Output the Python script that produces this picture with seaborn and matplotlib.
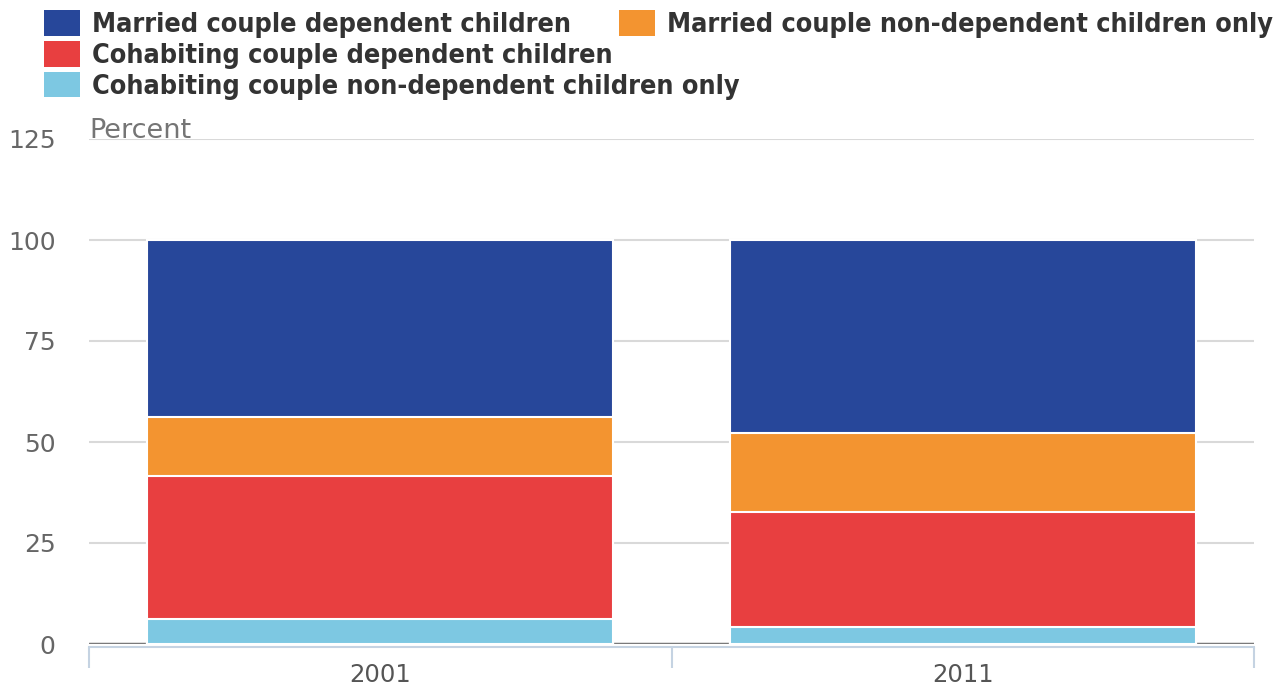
import matplotlib
matplotlib.use("Agg")
import matplotlib.pyplot as plt
from matplotlib.patches import Patch
from matplotlib.font_manager import FontProperties, findfont
import seaborn as sns
import pandas as pd

# data (percent of couple families with children)
years = ["2001", "2011"]
cohab_nondep = [6.2, 4.3]
cohab_dep = [35.4, 28.4]
married_nondep = [14.6, 19.5]
married_dep = [43.8, 47.8]

series_names = [
    "Cohabiting couple non-dependent children only",
    "Cohabiting couple dependent children",
    "Married couple non-dependent children only",
    "Married couple dependent children",
]
series_values = [cohab_nondep, cohab_dep, married_nondep, married_dep]
colors = ["#7DC8E2", "#E83F40", "#F39430", "#27479A"]

sns.set_theme(style="white")
plt.rcParams["font.family"] = ["DejaVu Sans"]

df = pd.DataFrame({name: vals for name, vals in zip(series_names, series_values)}, index=years)
cum = df.cumsum(axis=1)

fig = plt.figure(figsize=(12.77, 6.93), dpi=100)
ax = fig.add_axes([89 / 1277, 1 - 644 / 693, (1254 - 89) / 1277, (644 - 139) / 693])

# stack: draw tallest cumulative first, then overlay lower ones
for name, color in reversed(list(zip(series_names, colors))):
    sns.barplot(x=cum.index, y=cum[name].values, color=color, width=0.8, saturation=1,
                edgecolor="white", linewidth=1.5, ax=ax, zorder=3)

ax.set_ylim(0, 125)
ax.set_xlim(-0.5, 1.5)
ax.set_yticks([0, 25, 50, 75, 100, 125])
ax.yaxis.grid(True, color="#D9D9D9", linewidth=1.5)
ax.set_axisbelow(True)
ax.axhline(0, color="#7A7A7A", linewidth=2.5, zorder=2)

for s in ["top", "right", "left"]:
    ax.spines[s].set_visible(False)
ax.spines["bottom"].set_color("#C5D3E2")
ax.spines["bottom"].set_linewidth(1.5)
ax.spines["bottom"].set_position(("outward", 2))

ax.tick_params(axis="y", length=0, pad=24, labelsize=18, labelcolor="#666666")
ax.tick_params(axis="x", which="major", bottom=False, length=0, pad=12, labelsize=17.5,
               labelcolor="#555555")
ax.set_xticks([-0.5, 0.5, 1.5], minor=True)
ax.tick_params(axis="x", which="minor", bottom=True, length=15, width=1.5, color="#C5D3E2")
ax.set_xlabel("")
ax.set_ylabel("")

ax.text(-0.5, 125.3, "Percent", ha="left", va="baseline", fontsize=19.5, color="#757575")

# legend font: condensed bold if available
leg_font = FontProperties(family="DejaVu Sans", weight="bold", stretch="condensed", size=19.4)
if "Condensed" not in findfont(leg_font):
    leg_font = FontProperties(family="DejaVu Sans", weight="bold", size=17)

handles = {n: Patch(facecolor=c, edgecolor="none") for n, c in zip(series_names, colors)}
leg_kw = dict(frameon=False, handlelength=1.35, handleheight=1.1,
              handletextpad=0.42, labelspacing=0.1, borderaxespad=0, borderpad=0,
              labelcolor="#333333", prop=leg_font)
left_names = [series_names[3], series_names[1], series_names[0]]
fig.legend([handles[n] for n in left_names], left_names,
           loc="upper left", bbox_to_anchor=(44 / 1277, 1 - 10 / 693), **leg_kw)
fig.legend([handles[series_names[2]]], [series_names[2]],
           loc="upper left", bbox_to_anchor=(619 / 1277, 1 - 10 / 693), **leg_kw)

fig.savefig("out.png", dpi=100)
